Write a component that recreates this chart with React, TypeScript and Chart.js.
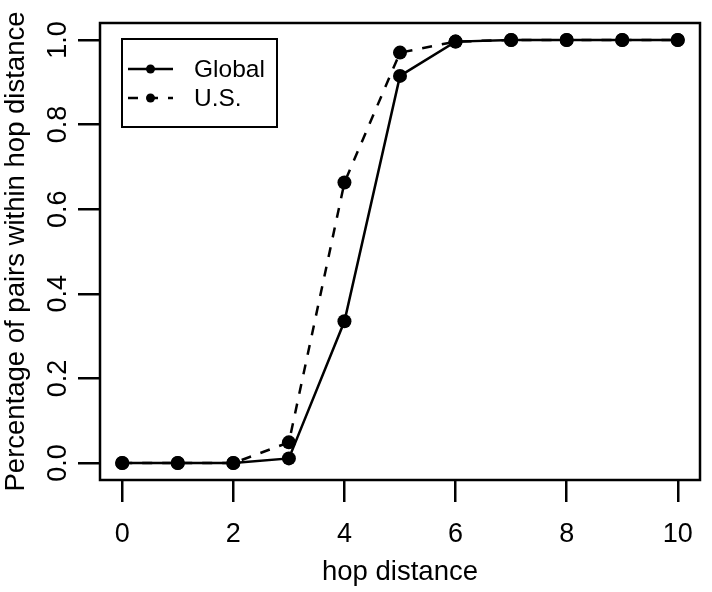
import React, { useEffect, useRef } from 'react';
import { Chart, registerables } from 'chart.js';

Chart.register(...registerables);

const hops = [0, 1, 2, 3, 4, 5, 6, 7, 8, 9, 10];
const globalValues = [0, 0, 0, 0.011, 0.335, 0.915, 0.996, 1, 1, 1, 1];
const usValues = [0, 0, 0, 0.049, 0.663, 0.97, 0.996, 1, 1, 1, 1];
const xTicks = [0, 2, 4, 6, 8, 10];
const yTicks = [0, 0.2, 0.4, 0.6, 0.8, 1.0];
const seriesLabels = ['Global', 'U.S.'];
const xTitle = 'hop distance';
const yTitle = 'Percentage of pairs within hop distance';

const FAMILY = "'Liberation Sans', Arial, sans-serif";

const framePlugin = {
  id: 'rFrame',
  afterDraw(chart: any) {
    const { ctx, chartArea } = chart;
    ctx.save();
    ctx.strokeStyle = '#000';
    ctx.lineWidth = 2.5;
    ctx.setLineDash([]);
    ctx.strokeRect(chartArea.left, chartArea.top, chartArea.right - chartArea.left, chartArea.bottom - chartArea.top);
    ctx.restore();
  },
};

const legendPlugin = {
  id: 'rLegend',
  afterDraw(chart: any) {
    const { ctx, chartArea } = chart;
    const bx = chartArea.left + 22;
    const by = chartArea.top + 16;
    const bw = 155;
    const bh = 88;
    ctx.save();
    ctx.strokeStyle = '#000';
    ctx.lineWidth = 2;
    ctx.setLineDash([]);
    ctx.strokeRect(bx, by, bw, bh);
    chart.data.datasets.forEach((ds: any, i: number) => {
      const cy = by + 30 + i * 29;
      const lx1 = bx + 6;
      const lx2 = bx + 51;
      ctx.beginPath();
      ctx.strokeStyle = ds.borderColor;
      ctx.lineWidth = ds.borderWidth;
      ctx.setLineDash(ds.borderDash || []);
      ctx.lineDashOffset = 0;
      ctx.moveTo(lx1, cy);
      ctx.lineTo(lx2, cy);
      ctx.stroke();
      ctx.setLineDash([]);
      ctx.beginPath();
      ctx.fillStyle = ds.pointBackgroundColor;
      ctx.arc((lx1 + lx2) / 2, cy, 4.5, 0, Math.PI * 2);
      ctx.fill();
      ctx.fillStyle = '#000';
      ctx.font = `24.5px ${FAMILY}`;
      ctx.textAlign = 'left';
      ctx.textBaseline = 'middle';
      ctx.fillText(ds.label, bx + 72, cy + 1);
    });
    ctx.restore();
  },
};

export default function App() {
  const ref = useRef<HTMLCanvasElement | null>(null);

  useEffect(() => {
    if (!ref.current) return;
    const tickFont = { family: FAMILY, size: 27 };
    const titleFont = { family: FAMILY, size: 27.5 };
    const gridOpts = {
      display: true,
      drawOnChartArea: false,
      drawTicks: true,
      tickLength: 22,
      tickWidth: 2.5,
      lineWidth: 2.5,
      tickColor: '#000',
      color: '#000',
    };
    const chart = new Chart(ref.current, {
      type: 'line',
      data: {
        datasets: [
          {
            label: seriesLabels[0],
            data: hops.map((h, i) => ({ x: h, y: globalValues[i] })),
            borderColor: '#000',
            borderWidth: 2.5,
            pointRadius: 7,
            pointBackgroundColor: '#000',
            pointBorderWidth: 0,
            tension: 0,
          },
          {
            label: seriesLabels[1],
            data: hops.map((h, i) => ({ x: h, y: usValues[i] })),
            borderColor: '#000',
            borderWidth: 2.5,
            borderDash: [10, 10],
            pointRadius: 7,
            pointBackgroundColor: '#000',
            pointBorderWidth: 0,
            tension: 0,
          },
        ],
      },
      options: {
        responsive: false,
        animation: false,
        events: [],
        layout: { padding: { top: 23, right: 12, left: 0, bottom: 0 } },
        plugins: {
          legend: { display: false },
          tooltip: { enabled: false },
          title: { display: false },
        },
        scales: {
          x: {
            type: 'linear',
            min: -0.4,
            max: 10.4,
            afterBuildTicks: (s: any) => {
              s.ticks = xTicks.map((v) => ({ value: v }));
            },
            afterFit: (s: any) => {
              s.height = 112;
            },
            grid: gridOpts,
            border: { display: false },
            ticks: {
              color: '#000',
              font: tickFont,
              padding: 16,
              maxRotation: 0,
              minRotation: 0,
              autoSkip: false,
              callback: (v: any) => String(v),
            },
            title: {
              display: true,
              text: xTitle,
              color: '#000',
              font: titleFont,
              padding: { top: 0, bottom: 3 },
            },
          },
          y: {
            type: 'linear',
            min: -0.04,
            max: 1.04,
            afterBuildTicks: (s: any) => {
              s.ticks = yTicks.map((v) => ({ value: v }));
            },
            afterFit: (s: any) => {
              s.width = 100;
            },
            grid: gridOpts,
            border: { display: false },
            ticks: {
              color: '#000',
              font: tickFont,
              padding: 1,
              minRotation: 90,
              maxRotation: 90,
              crossAlign: 'center',
              autoSkip: false,
              callback: (v: any) => Number(v).toFixed(1),
            },
            title: {
              display: true,
              text: yTitle,
              color: '#000',
              font: titleFont,
              padding: { top: 0, bottom: 0 },
            },
          },
        },
      },
      plugins: [framePlugin, legendPlugin],
    } as any);
    return () => chart.destroy();
  }, []);

  return (
    <div style={{ position: 'absolute', left: 0, top: 0, width: 712, height: 592, background: '#fff' }}>
      <canvas ref={ref} width={712} height={592} style={{ display: 'block' }} />
    </div>
  );
}
